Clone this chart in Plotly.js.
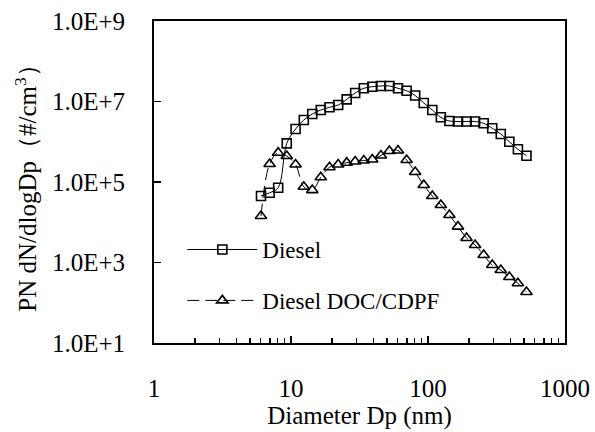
<!DOCTYPE html>
<html>
<head>
<meta charset="utf-8">
<script src="https://cdn.plot.ly/plotly-3.0.1.min.js"></script>
<style>html,body{margin:0;padding:0;background:#fff;}</style>
</head>
<body>
<div id="chart" style="width:595px;height:432px;"></div>
<script>
// Particle diameter channels (nm)
var diameters = [6.04, 6.98, 8.06, 9.31, 10.8, 12.4, 14.3, 16.5, 19.1, 22.1, 25.5, 29.4, 34.0, 39.2, 45.3, 52.3,
                 60.4, 69.8, 80.6, 93.1, 107.5, 124.1, 143.3, 165.5, 191.1, 220.7, 254.8, 294.3, 339.8, 392.4, 453.2, 523.3];
// PN dN/dlogDp (#/cm3)
var diesel = [4.5e4, 5.4e4, 7.2e4, 9.1e5, 2.07e6, 3.47e6, 4.89e6, 6.15e6, 7.18e6, 8.2e6, 1.13e7, 1.63e7, 2.13e7, 2.33e7, 2.43e7, 2.43e7,
              2.13e7, 1.85e7, 1.41e7, 9.2e6, 6.15e6, 4.05e6, 3.28e6, 3.19e6, 3.19e6, 3.19e6, 2.87e6, 2.16e6, 1.56e6, 1.0e6, 6.5e5, 4.5e5];
var dieselDocCdpf = [1.43e4, 2.8e5, 5.35e5, 4.43e5, 2.72e5, 7.6e4, 6.3e4, 1.31e5, 2.32e5, 2.72e5, 3.02e5, 3.23e5, 3.42e5, 3.62e5, 4.55e5, 5.89e5,
                     6.06e5, 3.52e5, 1.77e5, 8.4e4, 4.49e4, 2.68e4, 1.51e4, 7.8e3, 4.07e3, 2.72e3, 1.54e3, 867, 651, 436, 304, 185];
var seriesNames = ['Diesel', 'Diesel DOC/CDPF'];

var xTickVals = [1, 10, 100, 1000];
var xTickText = ['1', '10', '100', '1000'];
var yTickVals = [1e1, 1e3, 1e5, 1e7, 1e9];
var yTickText = ['1.0E+1', '1.0E+3', '1.0E+5', '1.0E+7', '1.0E+9'];

var xMinor = [];
for (var d = 1; d < 1000; d *= 10) { for (var k = 2; k <= 9; k++) { xMinor.push(d * k); } }

var FONT = 'Liberation Serif';

var traces = [
  {
    x: diameters, y: diesel, name: seriesNames[0], legendgroup: 'a',
    type: 'scatter', mode: 'lines+markers',
    line: {color: '#000', width: 1, shape: 'spline', smoothing: 1},
    marker: {symbol: 'square-open', size: 9, color: '#000', line: {color: '#000', width: 1.6}}
  },
  {
    x: diameters, y: dieselDocCdpf, name: seriesNames[1], legendgroup: 'b',
    type: 'scatter', mode: 'lines+markers',
    line: {color: '#000', width: 1, shape: 'spline', smoothing: 1, dash: '12px,6px'},
    marker: {symbol: 'triangle-up-open', size: 10, color: '#000', line: {color: '#000', width: 1.6}}
  }
];

var layout = {
  width: 595, height: 432,
  margin: {l: 154, r: 30, t: 21, b: 89, pad: 0},
  paper_bgcolor: '#fff', plot_bgcolor: '#fff',
  font: {family: FONT, size: 24, color: '#000'},
  showlegend: true,
  legend: {
    x: 0.069, y: 0.357, xanchor: 'left', yanchor: 'top',
    bgcolor: 'rgba(0,0,0,0)', borderwidth: 0,
    font: {family: FONT, size: 23, color: '#000'},
    itemwidth: 70, tracegroupgap: 18, traceorder: 'grouped'
  },
  xaxis: {
    type: 'log', range: [0, 3],
    tickmode: 'array', tickvals: xTickVals, ticktext: xTickText,
    ticks: 'inside', ticklen: 7, tickwidth: 1.5, tickcolor: '#000',
    showline: true, linewidth: 2, linecolor: '#000', mirror: true,
    showgrid: false, zeroline: false,
    ticklabelstandoff: 22,
    tickfont: {family: FONT, size: 25, color: '#000'},
    minor: {tickmode: 'array', tickvals: xMinor, ticks: 'inside', ticklen: 5, tickwidth: 1.5, tickcolor: '#000', showgrid: false},
    title: {text: 'Diameter Dp (nm)', font: {family: FONT, size: 25, color: '#000'}, standoff: 4}
  },
  yaxis: {
    type: 'log', range: [1, 9],
    tickmode: 'array', tickvals: yTickVals, ticktext: yTickText,
    ticks: 'inside', ticklen: 7, tickwidth: 1.5, tickcolor: '#000',
    showline: true, linewidth: 2, linecolor: '#000', mirror: true,
    showgrid: false, zeroline: false,
    ticklabelstandoff: 22,
    tickfont: {family: FONT, size: 25, color: '#000'},
    title: {text: 'PN dN/dlogDp（#/cm<sup>3</sup>）', font: {family: FONT, size: 25, color: '#000'}, standoff: 8}
  }
};

Plotly.newPlot('chart', traces, layout, {staticPlot: true, displayModeBar: false});
</script>
</body>
</html>
